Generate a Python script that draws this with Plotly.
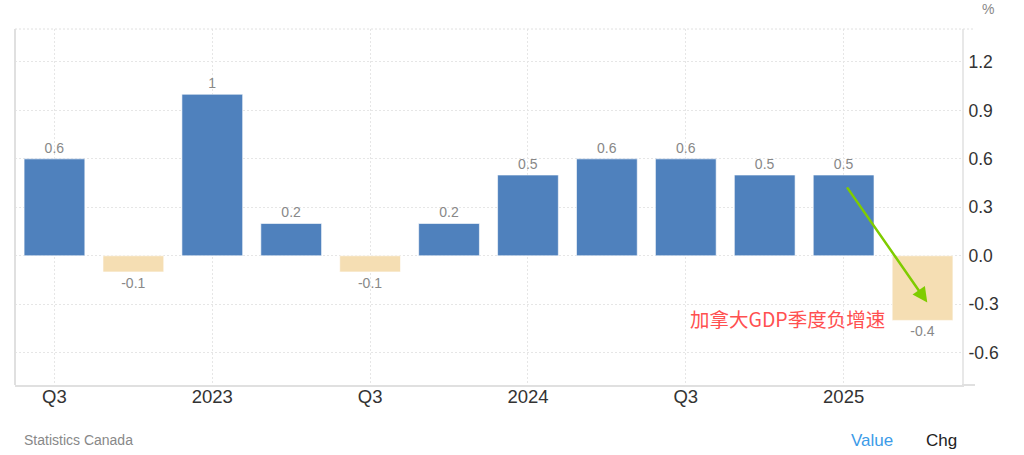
import plotly.graph_objects as go

quarters = ["2022Q3", "2022Q4", "2023Q1", "2023Q2", "2023Q3", "2023Q4",
            "2024Q1", "2024Q2", "2024Q3", "2024Q4", "2025Q1", "2025Q2"]
values = [0.6, -0.1, 1.0, 0.2, -0.1, 0.2, 0.5, 0.6, 0.6, 0.5, 0.5, -0.4]
tick_quarters = ["2022Q3", "2023Q1", "2023Q3", "2024Q1", "2024Q3", "2025Q1"]
tick_labels = ["Q3", "2023", "Q3", "2024", "Q3", "2025"]
y_ticks = [-0.6, -0.3, 0.0, 0.3, 0.6, 0.9, 1.2]
y_tick_labels = ["-0.6", "-0.3", "0.0", "0.3", "0.6", "0.9", "1.2"]

POS = "#4F81BD"
NEG = "#F5DEB3"
FONT = "Liberation Sans, Arial, sans-serif"

colors = [POS if v >= 0 else NEG for v in values]
labels = [f"{v:g}" for v in values]

# page layout (body margin removed via post_script)
W, H = 1024, 455
PL, PR, PT, PB = 15, 962, 29, 385          # plot area in page pixels
ml, mr, mt, mb = PL, W - PR, PT, H - PB
pw, ph = PR - PL, PB - PT


def px(x):
    return (x - PL) / pw


def py(y):
    return (PB - y) / ph


GRID = "#e6e6e6"
DOTS = "2px,2px"

fig = go.Figure()
fig.add_trace(go.Bar(
    x=quarters, y=values,
    marker=dict(color=colors, line=dict(color="rgba(255,255,255,0.6)", width=1)),
    text=labels, textposition="outside", cliponaxis=False,
    textfont=dict(family=FONT, size=14, color="#888888"),
    hoverinfo="x+y",
))

fig.update_layout(
    width=W, height=H,
    margin=dict(l=ml, r=mr, t=mt, b=mb),
    paper_bgcolor="white", plot_bgcolor="white",
    bargap=0.23, showlegend=False,
    font=dict(family=FONT),
    xaxis=dict(
        type="category", categoryorder="array", categoryarray=quarters,
        range=[-0.5, 11.5],
        tickmode="array", tickvals=tick_quarters, ticktext=tick_labels,
        tickfont=dict(family=FONT, size=18.5, color="#333333"),
        showgrid=True, gridcolor=GRID, griddash=DOTS, gridwidth=1,
        showline=True, linecolor="#e0e0e0", linewidth=2, mirror=False,
        ticks="", zeroline=False, ticklabelstandoff=-6,
    ),
    yaxis=dict(
        side="right", range=[-0.8, 1.404],
        tickmode="array", tickvals=y_ticks, ticktext=y_tick_labels,
        tickfont=dict(family=FONT, size=17.5, color="#333333"),
        showgrid=True, gridcolor=GRID, griddash=DOTS, gridwidth=1,
        zeroline=False,
        showline=True, linecolor="#e8e8e8", linewidth=2,
        ticks="", ticklabelstandoff=1,
    ),
)

# left border, top dotted border, bottom border extension
fig.add_shape(type="line", xref="paper", yref="paper", x0=0, x1=0, y0=0, y1=1,
              line=dict(color="#e0e0e0", width=2))
fig.add_shape(type="line", xref="paper", yref="paper", x0=0, x1=px(975), y0=1, y1=1,
              line=dict(color="#e0e0e0", width=1, dash=DOTS))
fig.add_shape(type="line", xref="paper", yref="paper", x0=1, x1=px(975), y0=0, y1=0,
              line=dict(color="#e0e0e0", width=2))

# "%" unit label
fig.add_annotation(text="%", xref="paper", yref="paper", x=px(988), y=py(9),
                   showarrow=False, font=dict(family=FONT, size=14, color="#888888"),
                   xanchor="center", yanchor="middle")

# highlight annotation
fig.add_annotation(x=11.06, y=-0.29, ax=10.03, ay=0.433, xref="x", yref="y",
                   axref="x", ayref="y", text="", showarrow=True,
                   arrowhead=2, arrowsize=1.2, arrowwidth=2.5, arrowcolor="#7FCC00")
fig.add_annotation(x=px(787), y=py(318), xref="paper", yref="paper",
                   text="加拿大GDP季度负增速", showarrow=False,
                   xanchor="center", yanchor="middle",
                   font=dict(family="Noto Sans CJK SC", size=19.5, color="#FF5050"))

# footer
fig.add_annotation(text="Statistics Canada", xref="paper", yref="paper",
                   x=px(22), y=py(440), showarrow=False, xanchor="left", yanchor="middle",
                   font=dict(family=FONT, size=14, color="#888888"))
fig.add_annotation(text="Value", xref="paper", yref="paper", x=px(871.5), y=py(440),
                   showarrow=False, xanchor="center", yanchor="middle",
                   font=dict(family=FONT, size=17, color="#3C9BE8"))
fig.add_annotation(text="Chg", xref="paper", yref="paper", x=px(941), y=py(440),
                   showarrow=False, xanchor="center", yanchor="middle",
                   font=dict(family=FONT, size=17, color="#222222"))

fig.write_html("out.html",
               config={"displayModeBar": False},
               post_script="document.body.style.margin='0';"
                           "document.body.style.overflow='hidden';")
